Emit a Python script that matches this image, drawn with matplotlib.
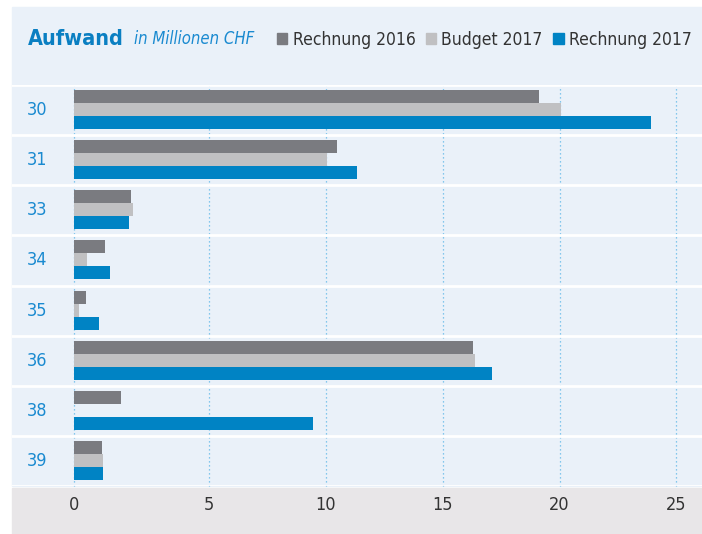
import matplotlib.pyplot as plt
import matplotlib.patches as mpatches
import numpy as np

# data
kategorien = ['30', '31', '33', '34', '35', '36', '38', '39']
rechnung_2016 = [19.14, 10.46, 2.10, 1.14, 0.44, 16.28, 1.73, 1.03]
budget_2017 = [20.08, 10.03, 2.18, 0.48, 0.18, 16.37, 0.0, 1.07]
rechnung_2017 = [23.90, 11.31, 2.03, 1.33, 0.92, 17.10, 9.43, 1.07]
serien = ['Rechnung 2016', 'Budget 2017', 'Rechnung 2017']
xticks = [0, 5, 10, 15, 20, 25]

farben = ['#7a7b80', '#c0c0c2', '#0083c4']
panel = '#eaf1f9'
blau_text = '#1a8ad0'

plt.rcParams['font.family'] = ['DejaVu Sans']
plt.rcParams['font.stretch'] = 'condensed'

# the original axis is stretched between 0 and 5
k = 1.16


def fwd(x):
    x = np.asarray(x, dtype=float)
    return np.where(x < 5, x * k, 5 * k + (x - 5))


def inv(y):
    y = np.asarray(y, dtype=float)
    return np.where(y < 5 * k, y / k, y - 5 * k + 5)


fig = plt.figure(figsize=(7.02, 5.34), dpi=100)
fig.patch.set_facecolor('white')

# background panels
fig.patches.append(mpatches.Rectangle((12 / 702, 1 - 486 / 534), 690 / 702, 479 / 534,
                                      transform=fig.transFigure, color=panel, zorder=-2))
fig.patches.append(mpatches.Rectangle((12 / 702, 0), 690 / 702, 46 / 534,
                                      transform=fig.transFigure, color='#e8e6e8', zorder=-2))

ax = fig.add_axes([12 / 702, 1 - 486 / 534, 690 / 702, 401 / 534])
ax.set_facecolor(panel)
ax.set_xscale('function', functions=(fwd, inv))
ax.set_xlim(-2.28, 26.1)
ax.set_ylim(len(kategorien), 0)

y = np.arange(len(kategorien))
h = 0.26
for werte, off, c, name in zip([rechnung_2016, budget_2017, rechnung_2017],
                               [0.23, 0.49, 0.75], farben, serien):
    ax.barh(y + off, werte, height=h, color=c, label=name, zorder=2)

for t in xticks:
    ax.axvline(t, ymin=0, ymax=1.008, color='#62b8e8', lw=0.9, ls=(0, (1, 2.2)),
               zorder=1, clip_on=False)
for i in range(len(kategorien) + 1):
    ax.axhline(i, color='white', lw=2, zorder=3)

for i, kat in enumerate(kategorien):
    ax.text(0.036, i + 0.5, kat, transform=ax.get_yaxis_transform(),
            ha='center', va='center', fontsize=13, color=blau_text)

ax.set_xticks(xticks)
ax.set_xticklabels([str(t) for t in xticks])
ax.set_yticks([])
ax.tick_params(axis='x', length=0, pad=7, labelsize=13, labelcolor='#333333')
for s in ax.spines.values():
    s.set_visible(False)

# header
fig.text(28 / 702, 1 - 39 / 534, 'Aufwand', fontsize=15.5, fontweight='bold',
         color='#0a7fc2', va='center', ha='left')
fig.text(134 / 702, 1 - 39 / 534, 'in Millionen CHF', fontsize=12, style='italic',
         color=blau_text, va='center', ha='left')
handles = [mpatches.Patch(color=c, label=n) for c, n in zip(farben, serien)]
fig.legend(handles=handles, loc='center left', bbox_to_anchor=(270 / 702, 1 - 40 / 534),
           ncol=3, frameon=False, fontsize=12.5, handlelength=0.6, handleheight=0.6,
           handletextpad=0.3, columnspacing=0.6, labelcolor='#333333', borderaxespad=0)

fig.savefig('out.png', dpi=100)
